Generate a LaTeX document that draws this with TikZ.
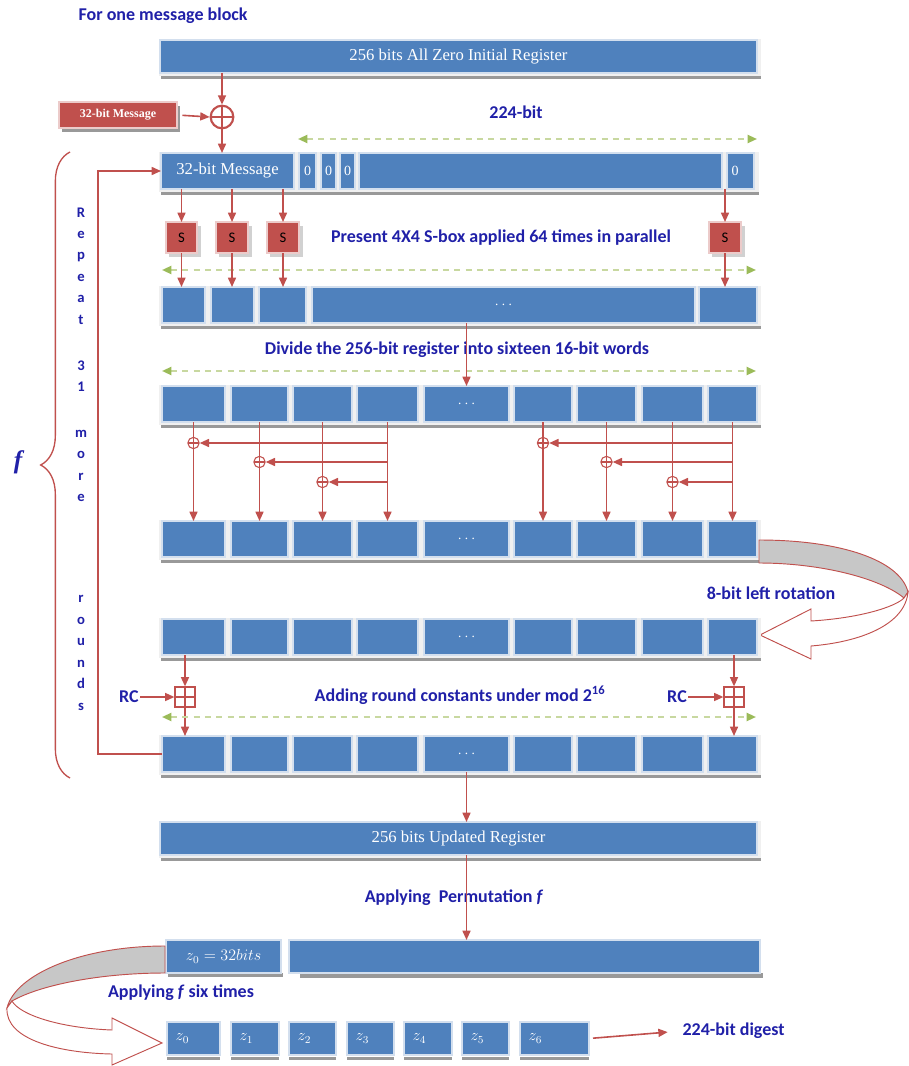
\documentclass[tikz,border=0pt]{standalone}
\usepackage{fontspec}
\setmainfont{Liberation Serif}
\newfontfamily\carl{Carlito}
\usetikzlibrary{arrows.meta,decorations.pathreplacing}
\definecolor{boxblue}{RGB}{79,129,189}
\definecolor{boxred}{RGB}{192,80,77}
\definecolor{arrred}{RGB}{192,80,77}
\definecolor{lblue}{RGB}{32,32,168}
\definecolor{gline}{RGB}{200,216,160}
\definecolor{gtip}{RGB}{155,187,89}
\tikzset{
 bbox/.style={fill=boxblue, draw=white!75!boxblue, line width=0.8pt, inner sep=0pt, outer sep=0pt, text=white, font=\fontsize{12.5}{14}\selectfont},
 rbox/.style={fill=boxred, draw=white!70!boxred, line width=0.8pt, inner sep=0pt, outer sep=0pt},
 arr/.style={draw=arrred, line width=1.2pt, -{Triangle[length=7pt,width=6pt]}},
 gd/.style={draw=gline, line width=1.5pt, dash pattern=on 4.5pt off 4pt, {Triangle[length=7pt,width=6pt,color=gtip]}-{Triangle[length=7pt,width=6pt,color=gtip]}},
 lbl/.style={text=lblue, font=\carl\bfseries\fontsize{13.5}{15}\selectfont, inner sep=1pt},
 vlbl/.style={text=lblue, font=\carl\bfseries\fontsize{11}{16.1}\selectfont, align=center, inner sep=0pt},
 xorc/.style={circle, draw=arrred, line width=0.8pt, minimum size=8.5pt, inner sep=0pt, path picture={\draw[arrred, line width=0.8pt] (path picture bounding box.north) -- (path picture bounding box.south) (path picture bounding box.west) -- (path picture bounding box.east);}},
 bigxor/.style={circle, draw=arrred, line width=1.6pt, minimum size=17pt, inner sep=0pt, path picture={\draw[arrred, line width=1.6pt] (path picture bounding box.north) -- (path picture bounding box.south) (path picture bounding box.west) -- (path picture bounding box.east);}},
 bplus/.style={rectangle, draw=arrred, line width=0.9pt, minimum size=15pt, inner sep=0pt, path picture={\draw[arrred, line width=0.9pt] (path picture bounding box.north) -- (path picture bounding box.south) (path picture bounding box.west) -- (path picture bounding box.east);}},
 shad/.style={fill=black!40},
 panel/.style={fill=black!6},
 rotarrow/.style={draw=arrred, line width=0.7pt},
 dots/.style={font=\fontsize{10}{11}\selectfont},
 zl/.style={font=\fontsize{11.5}{13}\selectfont, text=white},
}
\newcommand{\regbox}[7][bbox]{\node[#1, minimum width={(#5-#3)*0.75pt}, minimum height={(#6-#4)*0.75pt}] (#2) at ({(#3+#5)/2},{(#4+#6)/2}) {#7};}
\newcommand{\rowsh}[4]{\fill[panel] (#1-1,#2-1) rectangle (#3+3,#4+3);\fill[shad] (#1+1,#4+3) rectangle (#3+3,#4+6);}
\newcommand{\ninerow}[3]{%
 \rowsh{160}{#2}{758}{#3}
 \regbox{#1a}{162}{#2}{225}{#3}{}
 \regbox{#1b}{231}{#2}{288}{#3}{}
 \regbox{#1c}{293}{#2}{352}{#3}{}
 \regbox{#1d}{357}{#2}{418}{#3}{}
 \regbox[bbox,dots]{#1e}{424}{#2}{509}{#3}{.\ .\ .}
 \regbox{#1f}{514}{#2}{572}{#3}{}
 \regbox{#1g}{577}{#2}{636}{#3}{}
 \regbox{#1h}{642}{#2}{703}{#3}{}
 \regbox{#1i}{708}{#2}{757}{#3}{}}
\begin{document}
\begin{tikzpicture}[x=0.75pt,y=-0.75pt]
\useasboundingbox (0,0) rectangle (909,1066);

% title
\node[lbl, anchor=west] (title) at (77,16) {For one message block};

% initial register
\rowsh{160}{40}{758}{73}
\regbox{top}{160}{40}{757}{73}{256 bits All Zero Initial Register}

% message block and xor
\fill[shad] (62,106) rectangle (180,132);
\regbox[rbox]{msg}{59}{102}{177}{128}{\fontsize{9}{10}\selectfont\bfseries\color{white}32-bit Message}
\node[bigxor] (xo) at (222,117) {};
\draw[arr] (top.south -| xo) -- (xo.north);
\draw[arr, shorten <=4pt] (msg.east) -- (xo.west);

\node[lbl] (l224) at (516,112) {224-bit};
\coordinate (g1l) at (298,139); \coordinate (g1r) at (757,139);
\draw[gd] (g1l) -- (g1r);

% row 1
\rowsh{160}{153}{756}{189}
\regbox{r1a}{161}{153}{294}{189}{32-bit Message}
\regbox[bbox,font=\fontsize{10.5}{12}\selectfont]{r1b}{299}{153}{316}{189}{0}
\regbox[bbox,font=\fontsize{10.5}{12}\selectfont]{r1c}{321}{153}{336}{189}{0}
\regbox[bbox,font=\fontsize{10.5}{12}\selectfont]{r1d}{340}{153}{355}{189}{0}
\regbox{r1e}{359}{153}{722}{189}{}
\regbox[bbox,font=\fontsize{10.5}{12}\selectfont]{r1f}{727}{153}{754}{189}{0\hspace*{8pt}}
\draw[arr] (xo.south) -- (xo |- r1a.north);

% S boxes
\foreach \xa/\xb in {166/197,216/248,267/299,709/741}{\fill[black!18] (\xa+3,226) rectangle (\xb+4,257);}
\regbox[rbox,font=\carl\fontsize{11}{12}\selectfont]{s1}{166}{222}{197}{253}{S}
\regbox[rbox,font=\carl\fontsize{11}{12}\selectfont]{s2}{216}{222}{248}{253}{S}
\regbox[rbox,font=\carl\fontsize{11}{12}\selectfont]{s3}{267}{222}{299}{253}{S}
\regbox[rbox,font=\carl\fontsize{11}{12}\selectfont]{s4}{709}{222}{741}{253}{S}
\node[lbl] (lpres) at (501,238) {Present 4X4 S-box applied 64 times in parallel};

\draw[arr] (s1.north |- r1a.south) -- (s1.north);
\draw[arr] (s2.north |- r1a.south) -- (s2.north);
\draw[arr] (s3.north |- r1a.south) -- (s3.north);
\draw[arr] (s4.north |- r1f.south) -- (s4.north);

\coordinate (g2l) at (162,270); \coordinate (g2r) at (756,270);
\draw[gd] (g2l) -- (g2r);

% row 2
\rowsh{160}{287}{758}{323}
\regbox{r2a}{162}{287}{205}{323}{}
\regbox{r2b}{211}{287}{254}{323}{}
\regbox{r2c}{259}{287}{306}{323}{}
\regbox[bbox,dots]{r2d}{312}{287}{695}{323}{.\ .\ .}
\regbox{r2e}{699}{287}{757}{323}{}
\draw[arr] (s1.south) -- (s1.south |- r2a.north);
\draw[arr] (s2.south) -- (s2.south |- r2b.north);
\draw[arr] (s3.south) -- (s3.south |- r2c.north);
\draw[arr] (s4.south) -- (s4.south |- r2e.north);

\node[lbl] (ldiv) at (457,350) {Divide the 256-bit register into sixteen 16-bit words};
\coordinate (g3l) at (162,371); \coordinate (g3r) at (756,371);
\draw[gd] (g3l) -- (g3r);

% rows 3 and 4
\ninerow{r3}{386}{422}
\ninerow{r4}{521}{557}
\draw[arr] (r3e.north |- r2d.south) -- (r3e.north);

% xor network
\node[xorc] (x1) at (r3a.south |- 0,443) {};
\node[xorc] (x2) at (r3b.south |- 0,462) {};
\node[xorc] (x3) at (r3c.south |- 0,482) {};
\node[xorc] (x4) at (r3f.south |- 0,443) {};
\node[xorc] (x5) at (r3g.south |- 0,462) {};
\node[xorc] (x6) at (r3h.south |- 0,482) {};
\foreach \c in {a,b,c,d,f,g,h,i}{\draw[arr] (r3\c.south) -- (r4\c.north);}
\draw[arr] (r3d.south |- x1) -- (x1.east);
\draw[arr] (r3d.south |- x2) -- (x2.east);
\draw[arr] (r3d.south |- x3) -- (x3.east);
\draw[arr] (r3i.south |- x4) -- (x4.east);
\draw[arr] (r3i.south |- x5) -- (x5.east);
\draw[arr] (r3i.south |- x6) -- (x6.east);

% rotation arrow
\filldraw[rotarrow, fill=black!22] (759,540) .. controls (840,540) and (900,560) .. (908,592) -- (904,598) .. controls (880,578) and (820,563) .. (759,563) -- cycle;
\filldraw[rotarrow, fill=white] (908,592) .. controls (905,625) and (860,642) .. (811,646) -- (811,659) -- (760,635) -- (811,609) -- (811,621) .. controls (860,618) and (895,607) .. (904,598) -- cycle;
\node[lbl] (lrot) at (771,593) {8-bit left rotation};

% rows 5 and 6
\ninerow{r5}{619}{655}
\ninerow{r6}{736}{772}

\node[bplus] (bp1) at (185,697) {};
\node[bplus] (bp2) at (734,697) {};
\node[lbl] (rc1) at (129,697) {RC};
\node[lbl] (rc2) at (677,697) {RC};
\draw[arr] (bp1.north |- r5a.south) -- (bp1.north);
\draw[arr] (bp2.north |- r5i.south) -- (bp2.north);
\draw[arr] (rc1.east) -- (bp1.west);
\draw[arr] (rc2.east) -- (bp2.west);
\draw[arr] (bp1.south) -- (bp1.south |- r6a.north);
\draw[arr] (bp2.south) -- (bp2.south |- r6i.north);
\node[lbl] (ladd) at (460,695) {Adding round constants under mod 2\textsuperscript{16}};
\coordinate (g4l) at (162,717); \coordinate (g4r) at (756,717);
\draw[gd] (g4l) -- (g4r);

% feedback loop
\draw[arr] (r6a.west) -- ++(-64,0) |- (r1a.west);

% brace and repeat text
\draw[arrred, line width=1pt, decorate, decoration={brace, amplitude=22pt, aspect=0.5}] (70,778) -- (70,152);
\node[text=lblue, font=\fontsize{19}{21}\selectfont\itshape\bfseries] (fsym) at (18,462) {f};
\node[vlbl] (v1) at (81,266) {R\\e\\p\\e\\a\\t};
\node[vlbl] (v2) at (81,376) {3\\1};
\node[vlbl] (v3) at (81,466) {m\\o\\r\\e};
\node[vlbl] (v4) at (81,653) {r\\o\\u\\n\\d\\s};

% updated register
\rowsh{160}{822}{758}{855}
\regbox{upd}{160}{822}{757}{855}{256 bits Updated Register}
\draw[arr] (r6e.south) -- (r6e.south |- upd.north);

\node[lbl] (lperm) at (454,898) {Applying\ \ Permutation \textit{f}};

% row 7
\fill[shad] (168,973) rectangle (283,977);
\fill[shad] (300,973) rectangle (763,978);
\regbox{z0b}{166}{940}{281}{973}{\fontsize{12}{13}\selectfont$z_0 = 32bits$}
\regbox{zbig}{289}{940}{760}{973}{}
\draw[arr] (r6e.south |- upd.south) -- (r6e.south |- zbig.north);

% f six times arrow
\filldraw[rotarrow, fill=black!22] (165,946) .. controls (80,946) and (15,975) .. (7,1008) -- (12,1001) .. controls (40,985) and (100,973) .. (165,973) -- cycle;
\filldraw[rotarrow, fill=white] (7,1008) .. controls (5,1040) and (60,1053) .. (112,1054) -- (112,1065) -- (162,1043) -- (112,1018) -- (112,1030) .. controls (60,1028) and (20,1015) .. (12,1001) -- cycle;
\node[lbl] (lsix) at (181,993) {Applying \textit{f} six times};

% row 8
\foreach \xa/\xb in {167/220,231/279,289/336,347/394,404/452,462/509,520/589}{\fill[shad] (\xa,1057) rectangle (\xb,1060);}
\regbox[bbox,zl]{z0}{167}{1022}{220}{1055}{}
\regbox[bbox,zl]{z1}{231}{1022}{279}{1055}{}
\regbox[bbox,zl]{z2}{289}{1022}{336}{1055}{}
\regbox[bbox,zl]{z3}{347}{1022}{394}{1055}{}
\regbox[bbox,zl]{z4}{404}{1022}{452}{1055}{}
\regbox[bbox,zl]{z5}{462}{1022}{509}{1055}{}
\regbox[bbox,zl]{z6}{520}{1022}{589}{1055}{}
\foreach \i in {0,...,6}{\node[zl, anchor=west] (zt\i) at ([xshift=3pt]z\i.west) {$z_{\i}$};}

\node[lbl, anchor=west] (dig) at (681,1031) {224-bit digest};
\draw[arr, shorten <=3pt, shorten >=10pt] (z6.east) -- (dig.west);
\end{tikzpicture}
\end{document}
